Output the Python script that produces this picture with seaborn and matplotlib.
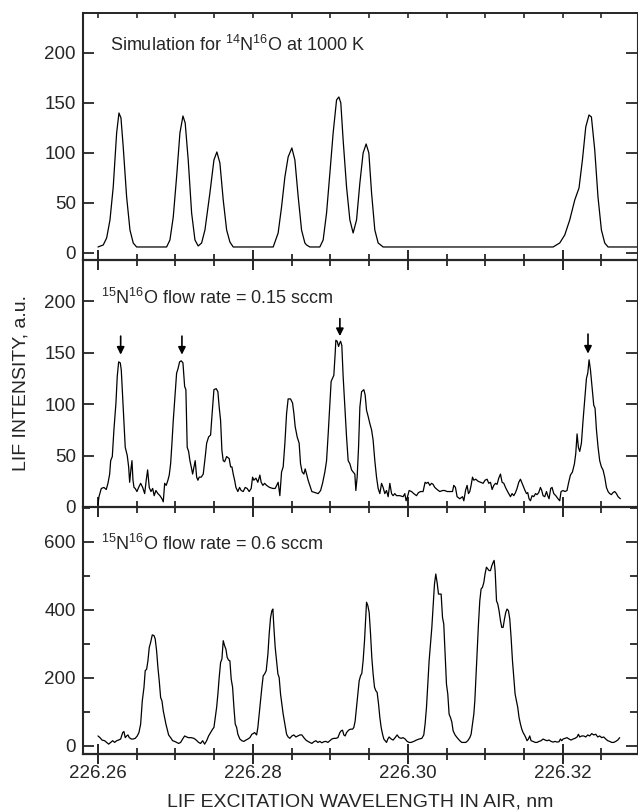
import pandas as pd
import matplotlib
matplotlib.use("Agg")
import matplotlib.pyplot as plt
from matplotlib.ticker import MultipleLocator, FormatStrFormatter
import seaborn as sns


# simulated 14N16O spectrum at 1000 K
sim_wl = [226.26000, 226.26068, 226.26112, 226.26155, 226.26197, 226.26241, 226.26271, 226.26297, 226.26326, 226.26370,
          226.26413, 226.26455, 226.26499,
          226.26886, 226.26929, 226.26972, 226.27015, 226.27058, 226.27097, 226.27126, 226.27165, 226.27209, 226.27252,
          226.27294, 226.27338, 226.27381, 226.27445, 226.27497, 226.27535, 226.27574, 226.27617, 226.27661, 226.27703,
          226.27746,
          226.28262, 226.28326, 226.28370, 226.28413, 226.28455, 226.28503, 226.28542, 226.28585, 226.28606, 226.28628,
          226.28671, 226.28693, 226.28735,
          226.28864, 226.28907, 226.28951, 226.28994, 226.29036, 226.29080, 226.29110, 226.29135, 226.29165, 226.29209,
          226.29252, 226.29294, 226.29338, 226.29381, 226.29423, 226.29462, 226.29497, 226.29532, 226.29574, 226.29617,
          226.29681,
          226.31875, 226.31961, 226.32026, 226.32090, 226.32155, 226.32210, 226.32254, 226.32297, 226.32339, 226.32370,
          226.32413, 226.32455, 226.32499, 226.32542, 226.32585, 226.32968]
sim_int = [6, 8, 15, 33, 66, 120, 140, 135, 106, 56,
           23, 10, 6,
           6, 13, 36, 76, 120, 137, 130, 93, 40, 13,
           7, 10, 23, 60, 93, 101, 90, 53, 23, 11,
           6,
           6, 20, 46, 76, 96, 105, 93, 56, 40, 23,
           10, 8, 6,
           6, 13, 40, 80, 120, 153, 156, 150, 113, 66,
           33, 20, 33, 70, 100, 109, 100, 60, 23, 10,
           6,
           6, 10, 18, 33, 53, 65, 93, 126, 138, 136,
           103, 56, 23, 10, 6, 6]

# 15N16O at 0.15 sccm
low_wl = [226.26000, 226.26013, 226.26043, 226.26077, 226.26107, 226.26129, 226.26151, 226.26164, 226.26185, 226.26206,
          226.26232, 226.26249, 226.26267, 226.26288, 226.26301, 226.26319, 226.26335, 226.26352, 226.26378, 226.26396,
          226.26409, 226.26426, 226.26439, 226.26452, 226.26465, 226.26481, 226.26503, 226.26525, 226.26551, 226.26577,
          226.26603, 226.26623, 226.26641, 226.26662, 226.26684, 226.26706, 226.26726, 226.26748, 226.26774, 226.26800,
          226.26826, 226.26843, 226.26861, 226.26881, 226.26903, 226.26920, 226.26938, 226.26955, 226.26972, 226.26997,
          226.27015, 226.27032, 226.27054, 226.27075, 226.27097, 226.27119, 226.27135, 226.27152, 226.27170, 226.27187,
          226.27204, 226.27222, 226.27239, 226.27255, 226.27274, 226.27290, 226.27307, 226.27333, 226.27359, 226.27385,
          226.27403, 226.27428, 226.27454, 226.27471, 226.27497, 226.27526, 226.27548, 226.27565, 226.27583, 226.27600,
          226.27617, 226.27635, 226.27661, 226.27694, 226.27712, 226.27729, 226.27746, 226.27764, 226.27781, 226.27806,
          226.27828, 226.27849, 226.27875, 226.27901, 226.27926, 226.27952, 226.27978, 226.27996, 226.28013, 226.28039,
          226.28064, 226.28090, 226.28107, 226.28129, 226.28151, 226.28177, 226.28215, 226.28258, 226.28288, 226.28326,
          226.28348, 226.28370, 226.28391, 226.28413, 226.28435, 226.28455, 226.28486, 226.28512, 226.28529, 226.28546,
          226.28572, 226.28597, 226.28615, 226.28636, 226.28658, 226.28675, 226.28693, 226.28713, 226.28735, 226.28761,
          226.28800, 226.28843, 226.28874, 226.28899, 226.28929, 226.28951, 226.28972, 226.28994, 226.29010, 226.29028,
          226.29045, 226.29062, 226.29071, 226.29088, 226.29106, 226.29119, 226.29132, 226.29148, 226.29165, 226.29187,
          226.29209, 226.29230, 226.29252, 226.29274, 226.29294, 226.29316, 226.29329, 226.29346, 226.29364, 226.29381,
          226.29403, 226.29432, 226.29449, 226.29467, 226.29488, 226.29510, 226.29532, 226.29552, 226.29574, 226.29596,
          226.29617, 226.29639, 226.29661, 226.29681, 226.29703, 226.29725, 226.29746, 226.29768, 226.29790, 226.29810,
          226.29832, 226.29854, 226.29897, 226.29939, 226.29961, 226.29978, 226.29996, 226.30017, 226.30048, 226.30077,
          226.30112, 226.30138, 226.30164, 226.30197, 226.30223, 226.30241, 226.30262, 226.30284, 226.30306, 226.30326,
          226.30348, 226.30378, 226.30413, 226.30448, 226.30477, 226.30507, 226.30542, 226.30577, 226.30593, 226.30615,
          226.30636, 226.30671, 226.30706, 226.30723, 226.30745, 226.30765, 226.30783, 226.30800, 226.30817, 226.30835,
          226.30852, 226.30877, 226.30907, 226.30938, 226.30972, 226.30997, 226.31023, 226.31045, 226.31067, 226.31088,
          226.31110, 226.31132, 226.31152, 226.31174, 226.31196, 226.31217, 226.31239, 226.31261, 226.31281, 226.31303,
          226.31325, 226.31346, 226.31368, 226.31390, 226.31410, 226.31432, 226.31454, 226.31475, 226.31497, 226.31513,
          226.31532, 226.31548, 226.31565, 226.31583, 226.31604, 226.31626, 226.31648, 226.31668, 226.31690, 226.31712,
          226.31729, 226.31746, 226.31768, 226.31790, 226.31806, 226.31823, 226.31845, 226.31862, 226.31884, 226.31910,
          226.31939, 226.31961, 226.31978, 226.32004, 226.32030, 226.32055, 226.32074, 226.32099, 226.32125, 226.32151,
          226.32168, 226.32185, 226.32202, 226.32219, 226.32241, 226.32262, 226.32284, 226.32306, 226.32323, 226.32340,
          226.32358, 226.32378, 226.32400, 226.32417, 226.32435, 226.32456, 226.32477, 226.32499, 226.32520, 226.32542,
          226.32564, 226.32585, 226.32606, 226.32628, 226.32649, 226.32671, 226.32693, 226.32714, 226.32744]
low_int = [2, 10, 18, 19, 17, 23, 32, 45, 49, 75,
           101, 127, 141, 140, 133, 107, 84, 58, 50, 39,
           24, 37, 45, 26, 19, 18, 15, 19, 23, 19,
           13, 26, 36, 19, 15, 18, 11, 16, 13, 11,
           8, 5, 23, 21, 26, 31, 42, 62, 84, 110,
           130, 134, 141, 142, 140, 117, 114, 58, 54, 45,
           39, 32, 39, 45, 29, 26, 29, 29, 32, 49,
           62, 68, 70, 88, 114, 115, 112, 97, 84, 55,
           45, 44, 49, 47, 39, 39, 32, 26, 19, 15,
           19, 16, 15, 19, 18, 15, 18, 29, 26, 28,
           24, 31, 24, 21, 23, 21, 19, 18, 18, 24,
           11, 34, 39, 62, 91, 105, 105, 101, 91, 78,
           68, 62, 42, 34, 32, 37, 32, 26, 21, 15,
           14, 13, 16, 23, 34, 45, 71, 101, 122, 125,
           128, 149, 162, 161, 156, 159, 161, 157, 127, 97,
           68, 45, 42, 36, 34, 32, 16, 29, 58, 97,
           112, 114, 109, 94, 88, 81, 75, 65, 45, 29,
           18, 13, 23, 19, 13, 16, 10, 23, 13, 11,
           13, 11, 11, 10, 13, 6, 10, 16, 15, 13,
           11, 14, 15, 15, 24, 23, 24, 21, 23, 22,
           19, 17, 15, 16, 16, 15, 15, 15, 21, 19,
           10, 8, 10, 6, 16, 21, 13, 15, 21, 29,
           26, 27, 25, 24, 23, 26, 27, 23, 24, 17,
           21, 23, 22, 28, 32, 24, 23, 19, 16, 13,
           10, 13, 11, 14, 18, 24, 27, 23, 19, 16,
           13, 14, 8, 6, 11, 10, 13, 12, 14, 19,
           16, 11, 10, 15, 11, 8, 18, 19, 13, 11,
           8, 6, 15, 16, 15, 16, 23, 31, 34, 42,
           52, 71, 58, 54, 62, 84, 104, 125, 130, 143,
           133, 117, 99, 96, 75, 58, 45, 39, 36, 29,
           19, 15, 13, 12, 14, 15, 13, 10, 8]

# 15N16O at 0.6 sccm
high_wl = [226.26000, 226.26026, 226.26052, 226.26086, 226.26112, 226.26138, 226.26164, 226.26190, 226.26215, 226.26241,
           226.26267, 226.26293, 226.26319, 226.26335, 226.26352, 226.26370, 226.26387, 226.26404, 226.26430, 226.26455,
           226.26481, 226.26507, 226.26529, 226.26551, 226.26572, 226.26594, 226.26610, 226.26628, 226.26645, 226.26662,
           226.26680, 226.26701, 226.26723, 226.26739, 226.26757, 226.26774, 226.26791, 226.26809, 226.26826, 226.26843,
           226.26861, 226.26877, 226.26894, 226.26912, 226.26938, 226.26964, 226.26990, 226.27015, 226.27041, 226.27067,
           226.27093, 226.27119, 226.27144, 226.27170, 226.27204, 226.27239, 226.27268, 226.27299, 226.27325, 226.27351,
           226.27377, 226.27403, 226.27428, 226.27454, 226.27480, 226.27497, 226.27514, 226.27532, 226.27548, 226.27565,
           226.27583, 226.27600, 226.27617, 226.27635, 226.27652, 226.27668, 226.27686, 226.27703, 226.27720, 226.27738,
           226.27755, 226.27772, 226.27790, 226.27806, 226.27832, 226.27858, 226.27884, 226.27910, 226.27935, 226.27961,
           226.27987, 226.28004, 226.28022, 226.28048, 226.28064, 226.28081, 226.28099, 226.28116, 226.28133, 226.28151,
           226.28172, 226.28194, 226.28210, 226.28228, 226.28245, 226.28258, 226.28271, 226.28288, 226.28306, 226.28323,
           226.28339, 226.28357, 226.28374, 226.28391, 226.28413, 226.28435, 226.28455, 226.28477, 226.28503, 226.28529,
           226.28555, 226.28581, 226.28606, 226.28632, 226.28658, 226.28684, 226.28710, 226.28735, 226.28761, 226.28787,
           226.28813, 226.28839, 226.28864, 226.28890, 226.28916, 226.28942, 226.28968, 226.28994, 226.29019, 226.29045,
           226.29071, 226.29097, 226.29123, 226.29139, 226.29157, 226.29174, 226.29191, 226.29209, 226.29235, 226.29261,
           226.29287, 226.29303, 226.29320, 226.29338, 226.29355, 226.29372, 226.29390, 226.29406, 226.29423, 226.29441,
           226.29458, 226.29467, 226.29484, 226.29501, 226.29519, 226.29535, 226.29552, 226.29570, 226.29587, 226.29604,
           226.29622, 226.29639, 226.29656, 226.29674, 226.29690, 226.29707, 226.29725, 226.29742, 226.29759, 226.29785,
           226.29810, 226.29836, 226.29862, 226.29888, 226.29914, 226.29939, 226.29965, 226.29991, 226.30017, 226.30043,
           226.30077, 226.30112, 226.30146, 226.30181, 226.30206, 226.30223, 226.30241, 226.30258, 226.30275, 226.30293,
           226.30310, 226.30326, 226.30344, 226.30361, 226.30378, 226.30396, 226.30413, 226.30430, 226.30448, 226.30464,
           226.30481, 226.30499, 226.30516, 226.30533, 226.30551, 226.30568, 226.30585, 226.30610, 226.30636, 226.30671,
           226.30697, 226.30723, 226.30748, 226.30774, 226.30800, 226.30817, 226.30835, 226.30852, 226.30865, 226.30877,
           226.30894, 226.30912, 226.30929, 226.30946, 226.30964, 226.30981, 226.30997, 226.31015, 226.31032, 226.31049,
           226.31067, 226.31084, 226.31101, 226.31114, 226.31127, 226.31145, 226.31161, 226.31178, 226.31196, 226.31213,
           226.31230, 226.31248, 226.31264, 226.31281, 226.31299, 226.31316, 226.31333, 226.31351, 226.31368, 226.31385,
           226.31403, 226.31419, 226.31436, 226.31454, 226.31471, 226.31488, 226.31506, 226.31523, 226.31539, 226.31557,
           226.31574, 226.31591, 226.31617, 226.31643, 226.31668, 226.31694, 226.31720, 226.31746, 226.31772, 226.31797,
           226.31823, 226.31849, 226.31875, 226.31901, 226.31926, 226.31952, 226.31970, 226.31987, 226.32004, 226.32030,
           226.32055, 226.32081, 226.32107, 226.32133, 226.32159, 226.32185, 226.32202, 226.32219, 226.32245, 226.32271,
           226.32297, 226.32323, 226.32348, 226.32374, 226.32400, 226.32426, 226.32452, 226.32477, 226.32503, 226.32529,
           226.32555, 226.32581, 226.32606, 226.32632, 226.32658, 226.32684, 226.32710, 226.32735]
high_int = [29, 24, 17, 15, 10, 5, 10, 15, 10, 15,
            17, 20, 39, 42, 24, 29, 32, 24, 20, 20,
            22, 29, 39, 64, 132, 172, 221, 225, 250, 289,
            304, 326, 324, 314, 279, 230, 191, 142, 132, 103,
            83, 64, 49, 32, 24, 15, 13, 10, 7, 10,
            20, 29, 26, 24, 24, 22, 17, 10, 7, 15,
            5, 15, 29, 39, 49, 54, 83, 113, 152, 201,
            245, 255, 309, 294, 284, 260, 252, 250, 196, 172,
            113, 64, 54, 34, 20, 15, 13, 17, 20, 24,
            34, 36, 39, 32, 54, 93, 132, 172, 206, 211,
            221, 270, 328, 377, 397, 402, 348, 289, 250, 211,
            201, 152, 123, 93, 64, 34, 26, 22, 29, 32,
            26, 29, 32, 32, 24, 17, 13, 10, 7, 12,
            15, 10, 13, 9, 12, 13, 10, 15, 20, 22,
            22, 24, 39, 44, 46, 32, 29, 39, 46, 49,
            49, 54, 73, 113, 152, 191, 206, 213, 250, 309,
            387, 422, 412, 392, 328, 260, 211, 172, 162, 157,
            123, 83, 54, 34, 20, 15, 10, 20, 26, 20,
            17, 24, 32, 24, 22, 24, 20, 13, 10, 10,
            13, 17, 20, 22, 32, 64, 113, 181, 250, 299,
            348, 407, 475, 505, 480, 446, 446, 446, 377, 358,
            270, 181, 152, 93, 83, 70, 44, 32, 24, 15,
            10, 10, 10, 15, 24, 34, 64, 93, 132, 191,
            270, 358, 426, 461, 466, 480, 505, 525, 520, 515,
            515, 529, 539, 545, 515, 426, 417, 397, 368, 348,
            348, 373, 392, 402, 397, 373, 319, 250, 201, 152,
            132, 113, 83, 64, 49, 39, 32, 24, 15, 20,
            29, 15, 13, 10, 10, 13, 15, 20, 17, 15,
            17, 13, 11, 13, 11, 12, 20, 15, 20, 22,
            24, 20, 17, 20, 22, 26, 34, 26, 29, 29,
            26, 32, 29, 36, 32, 34, 26, 29, 24, 26,
            20, 15, 13, 10, 10, 13, 17, 24]

# arrows over the 14N16O lines in the 0.15 sccm trace
arrow_wl = [226.26293, 226.27084, 226.29123, 226.32326]
arrow_tip = [148, 148, 166, 149]
arrow_tail = [166, 166, 183, 168]

labels = ["Simulation for $^{14}$N$^{16}$O at 1000 K",
          "$^{15}$N$^{16}$O flow rate = 0.15 sccm",
          "$^{15}$N$^{16}$O flow rate = 0.6 sccm"]
label_pos = [(226.26155, 202), (226.26039, 197), (226.26039, 576)]


sns.set_theme(style="ticks")
plt.rcParams["font.family"] = ["Liberation Sans", "DejaVu Sans"]
plt.rcParams["mathtext.fontset"] = "custom"
plt.rcParams["mathtext.rm"] = "Liberation Sans"
plt.rcParams["mathtext.it"] = "Liberation Sans:italic"
plt.rcParams["mathtext.default"] = "rm"

fig, axes = plt.subplots(3, 1, sharex=True, figsize=(6.38, 8.11), dpi=100)
fig.subplots_adjust(left=0.130, right=0.998, top=0.984, bottom=0.0703, hspace=0)

spectra = [(sim_wl, sim_int), (low_wl, low_int), (high_wl, high_int)]
ylims = [(-7, 240), (0, 240), (-24, 702)]

for i, ax in enumerate(axes):
    wl, val = spectra[i]
    df = pd.DataFrame({"wl": wl, "lif": val})
    ax.set_facecolor("none")
    sns.lineplot(data=df, x="wl", y="lif", ax=ax, color="black", linewidth=0.9, estimator=None)
    ax.set(xlabel="", ylabel="")
    ax.set_ylim(*ylims[i])
    ax.text(label_pos[i][0], label_pos[i][1], labels[i], fontsize=13, ha="left", va="baseline")

    ax.tick_params(axis="y", which="both", direction="in", left=True, right=True, labelsize=13.5, pad=5, width=1.3)
    ax.tick_params(axis="y", which="major", length=8)
    ax.tick_params(axis="y", which="minor", length=5)
    ax.tick_params(axis="x", which="both", direction="inout", bottom=True, top=False, labelsize=13.5, pad=1)
    ax.tick_params(axis="x", which="major", length=14, width=1.4)
    ax.tick_params(axis="x", which="minor", length=8, width=1.3)

    ax.spines["left"].set_linewidth(1.5)
    ax.spines["bottom"].set_linewidth(1.6)
    ax.spines["right"].set_linewidth(0.8)
    ax.spines["top"].set_linewidth(1.2)
    if i > 0:
        ax.spines["top"].set_visible(False)

axes[0].yaxis.set_major_locator(MultipleLocator(50))
axes[1].yaxis.set_major_locator(MultipleLocator(50))
axes[2].yaxis.set_major_locator(MultipleLocator(200))
axes[2].yaxis.set_minor_locator(MultipleLocator(100))

axes[2].set_xlim(226.25806, 226.32955)
axes[2].xaxis.set_major_locator(MultipleLocator(0.02))
axes[2].xaxis.set_minor_locator(MultipleLocator(0.005))
axes[2].xaxis.set_major_formatter(FormatStrFormatter("%.2f"))

# short inward ticks along the top frame
top = axes[0].secondary_xaxis("top")
top.xaxis.set_major_locator(MultipleLocator(0.005))
top.tick_params(axis="x", direction="in", length=3.5, width=1.2, labeltop=False)

for x, tip, tail in zip(arrow_wl, arrow_tip, arrow_tail):
    axes[1].annotate("", xy=(x, tip), xytext=(x, tail),
                     arrowprops=dict(arrowstyle="-|>", color="black", lw=1.2,
                                     mutation_scale=11, shrinkA=0, shrinkB=0))

axes[1].set_ylabel("LIF INTENSITY, a.u.", fontsize=14, labelpad=11)
axes[2].set_xlabel("LIF EXCITATION WAVELENGTH IN AIR, nm", fontsize=14, labelpad=8)

plt.savefig("out.png", dpi=100)
